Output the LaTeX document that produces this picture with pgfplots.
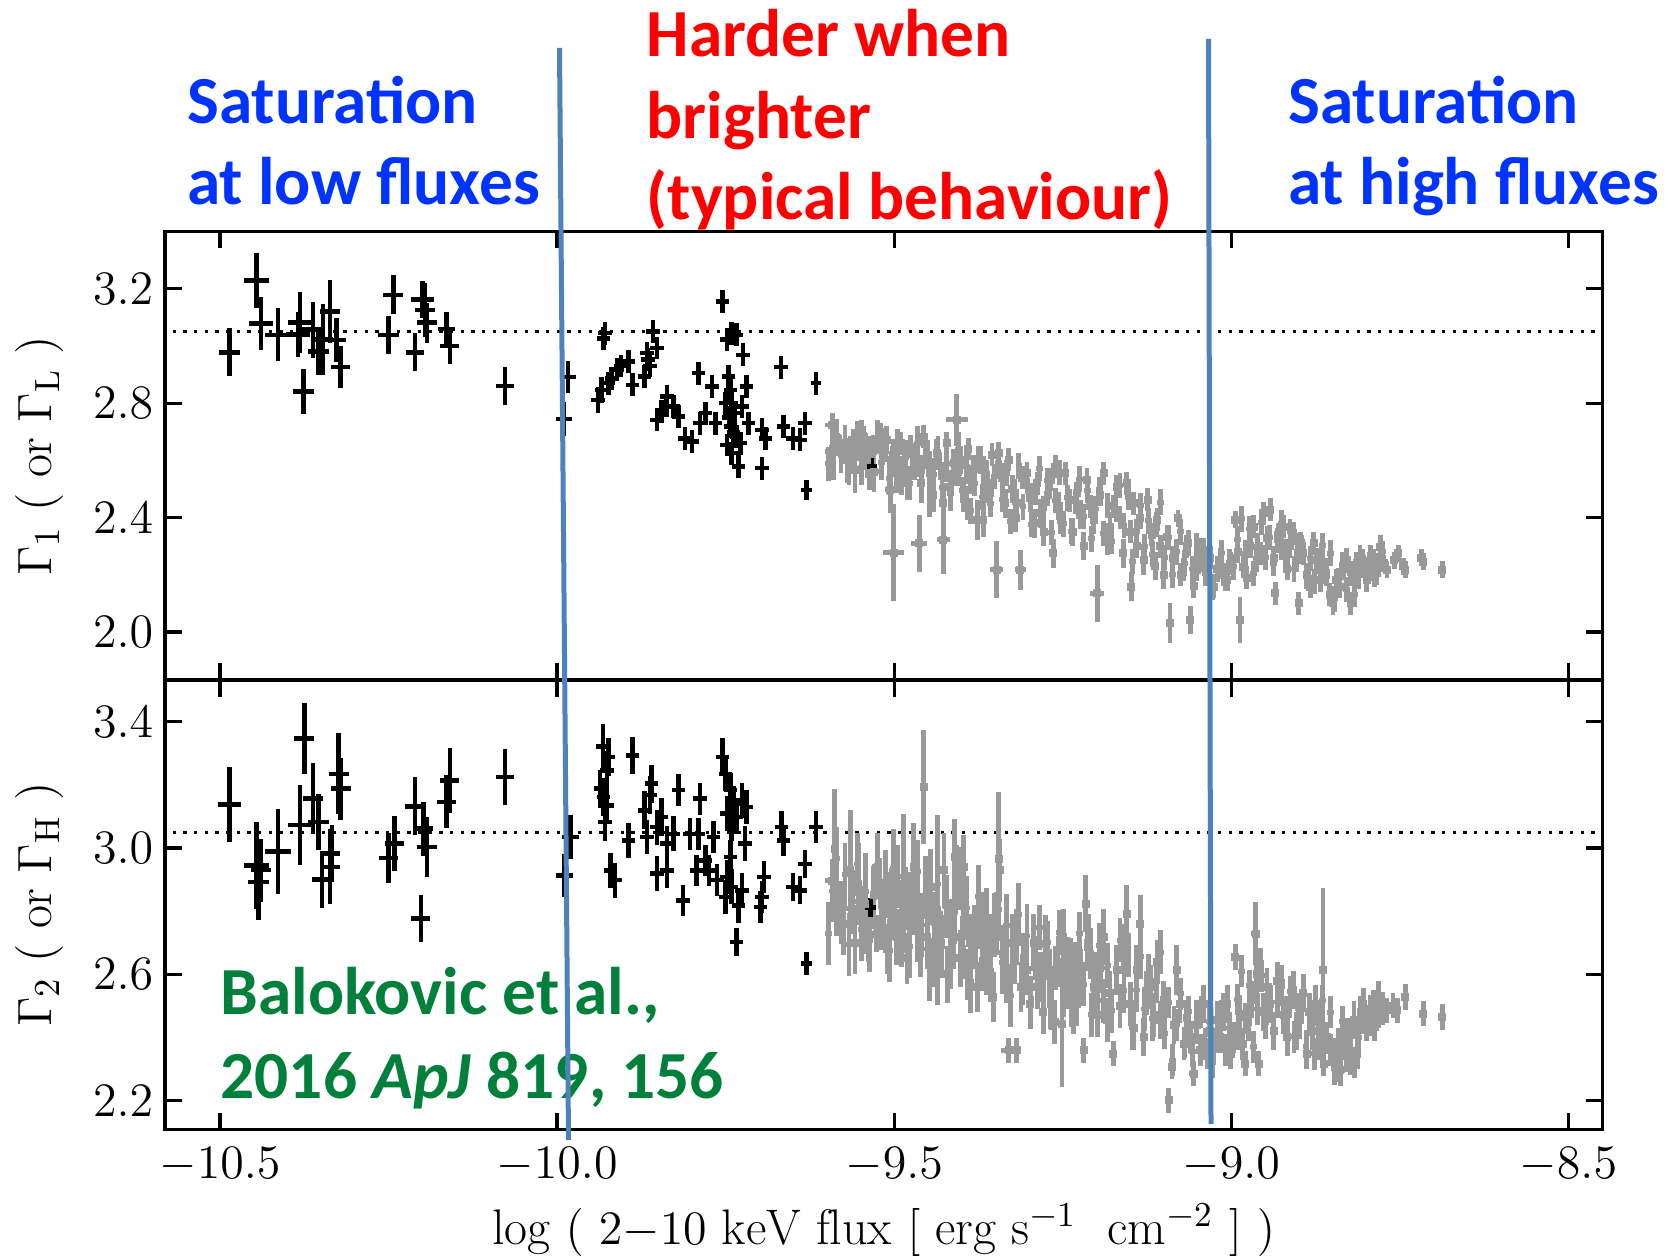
\documentclass[border=0pt]{standalone}
\usepackage{fontspec}
\newfontfamily\calibri{Carlito}
\usepackage{pgfplots}
\usepackage{pgfplotstable}
\pgfplotsset{compat=1.18}

\definecolor{satblue}{HTML}{0033FF}
\definecolor{hwbred}{HTML}{FF0000}
\definecolor{refgreen}{HTML}{00803A}
\definecolor{lineblue}{HTML}{4F81BD}
\definecolor{ptgray}{HTML}{999999}
\newcommand{\annot}{\fontsize{20.2}{24}\selectfont\calibri\bfseries}

% columns: log flux, photon index, x error, y error
\pgfplotstableread{
x y ex ey
-10.486 2.978 0.016 0.084
-10.446 3.229 0.019 0.096
-10.439 3.078 0.018 0.093
-10.414 3.039 0.019 0.093
-10.384 3.040 0.018 0.080
-10.381 3.082 0.018 0.106
-10.376 2.841 0.015 0.078
-10.362 3.057 0.016 0.098
-10.354 2.980 0.015 0.080
-10.347 3.022 0.015 0.125
-10.337 3.121 0.015 0.110
-10.327 3.021 0.014 0.076
-10.321 2.926 0.014 0.073
-10.250 3.039 0.015 0.067
-10.243 3.179 0.015 0.068
-10.211 2.978 0.013 0.067
-10.200 3.162 0.017 0.065
-10.196 3.126 0.015 0.096
-10.193 3.082 0.015 0.070
-10.164 3.059 0.012 0.061
-10.159 3.000 0.014 0.064
-10.077 2.860 0.013 0.066
-9.984 2.891 0.012 0.055
-9.990 2.744 0.012 0.060
-9.929 3.045 0.010 0.040
-9.931 3.027 0.010 0.040
-9.939 2.811 0.010 0.045
-9.934 2.847 0.010 0.045
-9.924 2.870 0.010 0.040
-9.919 2.887 0.010 0.040
-9.911 2.917 0.010 0.040
-9.905 2.930 0.010 0.040
-9.894 2.946 0.010 0.040
-9.888 2.864 0.010 0.040
-9.870 2.893 0.010 0.040
-9.865 2.952 0.010 0.040
-9.862 2.930 0.010 0.040
-9.858 3.051 0.010 0.040
-9.852 2.993 0.010 0.040
-9.867 2.975 0.010 0.040
-9.852 2.742 0.010 0.040
-9.845 2.771 0.010 0.040
-9.838 2.790 0.010 0.040
-9.837 2.823 0.010 0.040
-9.827 2.788 0.010 0.040
-9.820 2.753 0.010 0.040
-9.810 2.677 0.010 0.040
-9.800 2.666 0.010 0.040
-9.790 2.905 0.010 0.040
-9.788 2.730 0.010 0.040
-9.780 2.765 0.010 0.040
-9.770 2.858 0.010 0.040
-9.765 2.730 0.010 0.040
-9.755 3.156 0.010 0.040
-9.750 2.800 0.010 0.040
-9.748 3.022 0.010 0.040
-9.745 2.750 0.010 0.040
-9.741 3.045 0.010 0.040
-9.738 2.700 0.010 0.040
-9.734 3.039 0.010 0.040
-9.728 2.660 0.010 0.040
-9.724 2.969 0.010 0.040
-9.746 2.893 0.010 0.040
-9.743 2.847 0.010 0.040
-9.741 2.800 0.010 0.040
-9.736 2.765 0.010 0.040
-9.743 2.718 0.010 0.040
-9.748 2.654 0.010 0.040
-9.741 2.625 0.010 0.040
-9.734 2.683 0.010 0.040
-9.731 2.578 0.010 0.040
-9.726 2.788 0.010 0.040
-9.719 2.858 0.010 0.040
-9.716 2.730 0.010 0.040
-9.696 2.707 0.010 0.040
-9.691 2.677 0.010 0.040
-9.696 2.573 0.010 0.040
-9.668 2.926 0.010 0.040
-9.664 2.718 0.010 0.040
-9.650 2.677 0.010 0.040
-9.640 2.672 0.010 0.040
-9.632 2.730 0.010 0.040
-9.630 2.497 0.008 0.035
-9.616 2.870 0.008 0.040
-9.533 2.578 0.008 0.030
}\topblack

\pgfplotstableread{
x y ex ey
-9.592 2.724 0.010 0.040
-9.590 2.631 0.012 0.100
-9.585 2.680 0.008 0.050
-9.570 2.600 0.010 0.080
-9.565 2.625 0.008 0.060
-9.560 2.660 0.008 0.050
-9.555 2.648 0.008 0.050
-9.558 2.567 0.010 0.080
-9.548 2.690 0.008 0.050
-9.545 2.672 0.008 0.050
-9.540 2.600 0.008 0.060
-9.536 2.637 0.008 0.050
-9.530 2.560 0.010 0.070
-9.520 2.690 0.006 0.040
-9.515 2.640 0.006 0.040
-9.511 2.672 0.006 0.050
-9.506 2.497 0.008 0.080
-9.503 2.600 0.006 0.050
-9.501 2.625 0.006 0.050
-9.501 2.277 0.015 0.170
-9.496 2.555 0.006 0.070
-9.490 2.660 0.006 0.040
-9.485 2.600 0.006 0.050
-9.480 2.520 0.006 0.060
-9.476 2.648 0.006 0.040
-9.470 2.580 0.006 0.050
-9.466 2.602 0.006 0.060
-9.463 2.310 0.012 0.100
-9.460 2.520 0.006 0.070
-9.456 2.683 0.006 0.040
-9.450 2.620 0.006 0.050
-9.447 2.555 0.006 0.060
-9.442 2.480 0.006 0.060
-9.437 2.625 0.006 0.050
-9.432 2.580 0.006 0.050
-9.427 2.450 0.006 0.070
-9.427 2.322 0.010 0.120
-9.422 2.660 0.006 0.040
-9.417 2.508 0.006 0.060
-9.412 2.590 0.006 0.050
-9.407 2.742 0.016 0.090
-9.405 2.560 0.006 0.050
-9.402 2.602 0.006 0.050
-9.397 2.480 0.006 0.060
-9.392 2.450 0.006 0.060
-9.390 2.640 0.006 0.040
-9.387 2.532 0.006 0.050
-9.382 2.570 0.005 0.050
-9.377 2.392 0.006 0.070
-9.372 2.602 0.005 0.050
-9.367 2.567 0.005 0.050
-9.368 2.392 0.005 0.060
-9.362 2.500 0.005 0.050
-9.358 2.485 0.005 0.050
-9.355 2.620 0.005 0.040
-9.348 2.217 0.010 0.100
-9.345 2.625 0.005 0.040
-9.340 2.540 0.005 0.050
-9.335 2.450 0.005 0.050
-9.330 2.602 0.005 0.040
-9.325 2.500 0.005 0.050
-9.320 2.400 0.005 0.050
-9.318 2.450 0.005 0.050
-9.313 2.217 0.008 0.070
-9.310 2.540 0.005 0.040
-9.303 2.555 0.005 0.040
-9.298 2.470 0.005 0.050
-9.292 2.380 0.005 0.050
-9.288 2.520 0.005 0.040
-9.283 2.415 0.005 0.050
-9.278 2.350 0.005 0.050
-9.272 2.480 0.005 0.040
-9.268 2.532 0.005 0.040
-9.264 2.275 0.005 0.050
-9.261 2.578 0.005 0.040
-9.256 2.440 0.005 0.050
-9.253 2.392 0.005 0.050
-9.246 2.555 0.005 0.040
-9.240 2.460 0.005 0.040
-9.235 2.350 0.005 0.050
-9.229 2.485 0.005 0.040
-9.224 2.410 0.005 0.050
-9.219 2.300 0.005 0.050
-9.214 2.532 0.005 0.040
-9.209 2.440 0.005 0.040
-9.204 2.392 0.005 0.050
-9.199 2.135 0.010 0.100
-9.194 2.480 0.005 0.040
-9.189 2.555 0.005 0.040
-9.184 2.320 0.005 0.050
-9.180 2.368 0.005 0.050
-9.175 2.440 0.005 0.040
-9.170 2.508 0.005 0.040
-9.165 2.400 0.005 0.040
-9.160 2.275 0.005 0.050
-9.155 2.520 0.005 0.040
-9.150 2.350 0.005 0.040
-9.148 2.158 0.005 0.050
-9.145 2.450 0.005 0.040
-9.140 2.300 0.005 0.040
-9.135 2.400 0.005 0.040
-9.130 2.250 0.005 0.050
-9.124 2.462 0.005 0.040
-9.118 2.340 0.005 0.040
-9.113 2.230 0.005 0.050
-9.110 2.392 0.005 0.040
-9.105 2.300 0.005 0.040
-9.100 2.200 0.005 0.050
-9.095 2.333 0.005 0.040
-9.091 2.030 0.006 0.070
-9.087 2.260 0.005 0.040
-9.079 2.398 0.005 0.030
-9.075 2.200 0.005 0.040
-9.071 2.217 0.005 0.040
-9.066 2.300 0.005 0.040
-9.064 2.310 0.005 0.040
-9.061 2.042 0.005 0.050
-9.056 2.160 0.005 0.040
-9.051 2.217 0.005 0.040
-9.046 2.250 0.005 0.040
-9.041 2.287 0.005 0.040
-9.036 2.200 0.005 0.040
-9.031 2.260 0.005 0.040
-9.026 2.158 0.005 0.040
-9.021 2.220 0.005 0.040
-9.016 2.252 0.005 0.040
-9.011 2.200 0.005 0.040
-9.006 2.182 0.005 0.040
-9.001 2.240 0.005 0.040
-8.994 2.392 0.005 0.030
-8.990 2.280 0.005 0.040
-8.987 2.042 0.006 0.080
-8.982 2.228 0.005 0.040
-8.977 2.190 0.005 0.040
-8.972 2.300 0.005 0.040
-8.967 2.368 0.005 0.040
-8.962 2.250 0.005 0.040
-8.957 2.275 0.005 0.040
-8.952 2.415 0.005 0.040
-8.947 2.330 0.005 0.040
-8.942 2.427 0.005 0.040
-8.937 2.260 0.005 0.040
-8.935 2.135 0.005 0.040
-8.930 2.340 0.005 0.040
-8.925 2.290 0.005 0.040
-8.922 2.368 0.005 0.040
-8.917 2.220 0.005 0.040
-8.913 2.300 0.005 0.040
-8.908 2.345 0.005 0.040
-8.903 2.250 0.005 0.040
-8.900 2.100 0.005 0.040
-8.897 2.310 0.005 0.040
-8.893 2.275 0.005 0.040
-8.888 2.200 0.005 0.040
-8.883 2.158 0.005 0.040
-8.878 2.310 0.005 0.040
-8.873 2.250 0.005 0.040
-8.868 2.180 0.005 0.040
-8.864 2.240 0.005 0.040
-8.859 2.200 0.005 0.040
-8.854 2.130 0.005 0.040
-8.849 2.100 0.005 0.040
-8.844 2.180 0.005 0.040
-8.839 2.158 0.005 0.040
-8.834 2.220 0.005 0.040
-8.829 2.252 0.005 0.040
-8.823 2.100 0.005 0.040
-8.819 2.200 0.005 0.040
-8.814 2.240 0.005 0.040
-8.809 2.263 0.005 0.040
-8.804 2.230 0.005 0.040
-8.799 2.180 0.005 0.040
-8.794 2.217 0.005 0.040
-8.789 2.250 0.005 0.040
-8.784 2.205 0.005 0.040
-8.779 2.298 0.005 0.040
-8.774 2.240 0.005 0.030
-8.769 2.217 0.005 0.030
-8.758 2.250 0.005 0.030
-8.752 2.275 0.005 0.030
-8.745 2.230 0.005 0.030
-8.742 2.217 0.005 0.030
-8.718 2.260 0.005 0.030
-8.715 2.245 0.005 0.030
-8.687 2.217 0.005 0.030
}\topgray

% further points of the dense grey band (x, y, y error)
\pgfplotstableread{
x y ey
-9.597 2.588 0.06
-9.591 2.644 0.06
-9.585 2.686 0.06
-9.579 2.616 0.06
-9.573 2.665 0.06
-9.567 2.574 0.06
-9.561 2.630 0.06
-9.555 2.679 0.06
-9.549 2.574 0.06
-9.543 2.637 0.06
-9.537 2.556 0.06
-9.531 2.628 0.06
-9.525 2.682 0.06
-9.519 2.592 0.06
-9.513 2.655 0.06
-9.507 2.538 0.06
-9.501 2.610 0.06
-9.495 2.650 0.06
-9.489 2.540 0.06
-9.483 2.610 0.06
-9.477 2.520 0.06
-9.471 2.600 0.06
-9.465 2.660 0.06
-9.459 2.560 0.06
-9.453 2.630 0.06
-9.447 2.462 0.06
-9.441 2.550 0.06
-9.435 2.627 0.06
-9.429 2.506 0.06
-9.423 2.583 0.06
-9.417 2.484 0.06
-9.411 2.572 0.06
-9.405 2.638 0.06
-9.399 2.496 0.045
-9.393 2.580 0.045
-9.387 2.424 0.045
-9.381 2.520 0.045
-9.375 2.604 0.045
-9.369 2.472 0.045
-9.363 2.556 0.045
-9.357 2.448 0.045
-9.351 2.544 0.045
-9.345 2.594 0.045
-9.339 2.464 0.045
-9.333 2.555 0.045
-9.327 2.386 0.045
-9.321 2.490 0.045
-9.315 2.581 0.045
-9.309 2.438 0.045
-9.303 2.529 0.045
-9.297 2.376 0.045
-9.291 2.488 0.045
-9.285 2.572 0.045
-9.279 2.432 0.045
-9.273 2.530 0.045
-9.267 2.348 0.045
-9.261 2.460 0.045
-9.255 2.558 0.045
-9.249 2.378 0.045
-9.243 2.469 0.045
-9.237 2.352 0.045
-9.231 2.456 0.045
-9.225 2.534 0.045
-9.219 2.404 0.045
-9.213 2.495 0.045
-9.207 2.326 0.045
-9.201 2.430 0.045
-9.195 2.498 0.045
-9.189 2.344 0.045
-9.183 2.442 0.045
-9.177 2.316 0.045
-9.171 2.428 0.045
-9.165 2.512 0.045
-9.159 2.372 0.045
-9.153 2.470 0.045
-9.147 2.246 0.045
-9.141 2.350 0.045
-9.135 2.441 0.045
-9.129 2.298 0.045
-9.123 2.389 0.045
-9.117 2.272 0.045
-9.111 2.376 0.045
-9.105 2.454 0.045
-9.099 2.260 0.045
-9.093 2.330 0.045
-9.087 2.200 0.045
-9.081 2.280 0.045
-9.075 2.350 0.045
-9.069 2.240 0.045
-9.063 2.310 0.045
-9.057 2.220 0.045
-9.051 2.300 0.045
-9.045 2.284 0.045
-9.039 2.204 0.045
-9.033 2.260 0.045
-9.027 2.156 0.045
-9.021 2.220 0.045
-9.015 2.276 0.045
-9.009 2.188 0.045
-9.003 2.244 0.045
-8.997 2.228 0.045
-8.991 2.324 0.045
-8.985 2.396 0.045
-8.979 2.276 0.045
-8.973 2.360 0.045
-8.967 2.204 0.045
-8.961 2.300 0.045
-8.955 2.384 0.045
-8.949 2.260 0.045
-8.943 2.330 0.045
-8.937 2.240 0.045
-8.931 2.320 0.045
-8.925 2.380 0.045
-8.919 2.280 0.045
-8.913 2.350 0.045
-8.907 2.220 0.045
-8.901 2.300 0.045
-8.895 2.293 0.045
-8.889 2.194 0.045
-8.883 2.257 0.045
-8.877 2.176 0.045
-8.871 2.248 0.045
-8.865 2.302 0.045
-8.859 2.212 0.045
-8.853 2.275 0.045
-8.847 2.116 0.045
-8.841 2.180 0.045
-8.835 2.236 0.045
-8.829 2.148 0.045
-8.823 2.204 0.045
-8.817 2.132 0.045
-8.811 2.196 0.045
-8.805 2.244 0.045
-8.799 2.228 0.035
-8.793 2.270 0.035
-8.787 2.192 0.035
-8.781 2.240 0.035
-8.775 2.282 0.035
}\topgrayb

\pgfplotstableread{
x y ex ey
-10.486 3.137 0.017 0.119
-10.446 2.945 0.019 0.137
-10.443 2.892 0.016 0.119
-10.439 2.930 0.015 0.100
-10.414 2.989 0.019 0.135
-10.375 3.346 0.015 0.112
-10.381 3.072 0.018 0.127
-10.362 3.156 0.015 0.113
-10.354 3.082 0.015 0.090
-10.349 2.900 0.015 0.090
-10.337 2.940 0.015 0.119
-10.334 2.982 0.012 0.090
-10.324 3.235 0.015 0.128
-10.321 3.188 0.015 0.098
-10.250 2.968 0.014 0.080
-10.241 3.014 0.014 0.087
-10.211 3.132 0.014 0.092
-10.198 3.061 0.014 0.085
-10.193 3.003 0.015 0.095
-10.202 2.776 0.014 0.074
-10.164 3.146 0.014 0.084
-10.159 3.214 0.014 0.104
-10.077 3.225 0.013 0.090
-9.989 2.913 0.012 0.069
-9.980 3.035 0.012 0.069
-9.932 3.322 0.010 0.070
-9.926 3.246 0.010 0.060
-9.924 3.288 0.010 0.060
-9.936 3.188 0.010 0.060
-9.931 3.161 0.010 0.060
-9.926 3.135 0.010 0.060
-9.929 3.082 0.010 0.060
-9.888 3.293 0.010 0.060
-9.894 3.024 0.010 0.055
-9.921 2.929 0.010 0.055
-9.914 2.898 0.010 0.055
-9.860 3.204 0.010 0.060
-9.862 3.167 0.010 0.060
-9.870 3.119 0.010 0.060
-9.867 3.035 0.010 0.055
-9.852 3.066 0.010 0.055
-9.845 3.098 0.010 0.060
-9.837 3.014 0.010 0.055
-9.827 3.045 0.010 0.055
-9.852 2.919 0.010 0.055
-9.837 2.929 0.010 0.055
-9.820 3.183 0.010 0.050
-9.813 2.834 0.010 0.050
-9.803 3.045 0.010 0.050
-9.790 3.045 0.010 0.050
-9.788 3.156 0.010 0.050
-9.793 2.929 0.010 0.050
-9.780 2.961 0.010 0.050
-9.775 2.929 0.010 0.050
-9.768 3.035 0.010 0.050
-9.763 2.898 0.010 0.050
-9.755 3.288 0.010 0.060
-9.750 3.235 0.010 0.055
-9.743 3.183 0.010 0.055
-9.738 3.140 0.010 0.055
-9.748 3.109 0.010 0.055
-9.741 3.077 0.010 0.055
-9.734 3.098 0.010 0.055
-9.726 3.151 0.010 0.055
-9.719 3.130 0.010 0.055
-9.721 3.014 0.010 0.055
-9.743 2.971 0.010 0.055
-9.748 2.908 0.010 0.055
-9.750 2.845 0.010 0.055
-9.741 2.877 0.010 0.055
-9.726 2.866 0.010 0.055
-9.731 2.818 0.010 0.055
-9.734 2.702 0.010 0.045
-9.696 2.845 0.010 0.050
-9.693 2.908 0.010 0.050
-9.698 2.813 0.010 0.050
-9.667 3.066 0.010 0.050
-9.664 3.024 0.010 0.050
-9.650 2.877 0.010 0.045
-9.640 2.866 0.010 0.045
-9.632 2.950 0.010 0.045
-9.630 2.634 0.008 0.035
-9.616 3.066 0.010 0.050
-9.535 2.811 0.008 0.030
}\botblack

\pgfplotstableread{
x y ex ey
-9.592 2.896 0.010 0.050
-9.588 2.998 0.006 0.190
-9.585 2.820 0.006 0.100
-9.575 2.760 0.006 0.100
-9.565 2.929 0.006 0.190
-9.563 2.808 0.008 0.080
-9.558 2.700 0.006 0.100
-9.553 2.887 0.006 0.130
-9.548 2.780 0.006 0.100
-9.543 2.824 0.006 0.160
-9.538 2.720 0.006 0.080
-9.530 2.850 0.006 0.100
-9.526 2.729 0.010 0.060
-9.521 2.887 0.006 0.080
-9.515 2.790 0.006 0.100
-9.510 2.680 0.006 0.080
-9.506 2.824 0.006 0.100
-9.501 2.929 0.006 0.130
-9.496 2.718 0.006 0.090
-9.490 2.780 0.006 0.120
-9.486 2.887 0.006 0.220
-9.481 2.650 0.006 0.080
-9.476 2.824 0.006 0.100
-9.471 2.940 0.006 0.140
-9.466 2.740 0.006 0.100
-9.461 2.680 0.006 0.090
-9.456 3.193 0.006 0.180
-9.451 2.718 0.006 0.100
-9.446 2.877 0.006 0.120
-9.441 2.640 0.006 0.080
-9.436 2.803 0.006 0.300
-9.431 2.700 0.006 0.100
-9.426 2.929 0.006 0.120
-9.421 2.600 0.006 0.090
-9.416 2.739 0.006 0.100
-9.412 2.718 0.006 0.100
-9.410 2.971 0.006 0.120
-9.407 2.908 0.006 0.100
-9.402 2.650 0.006 0.090
-9.397 2.824 0.006 0.100
-9.397 2.940 0.006 0.100
-9.392 2.600 0.006 0.080
-9.387 2.700 0.006 0.090
-9.382 2.697 0.006 0.080
-9.380 2.718 0.006 0.100
-9.377 2.560 0.006 0.080
-9.372 2.771 0.006 0.090
-9.368 2.640 0.006 0.080
-9.365 2.760 0.006 0.100
-9.363 2.613 0.006 0.080
-9.358 2.700 0.006 0.090
-9.353 2.528 0.006 0.080
-9.348 2.760 0.006 0.100
-9.345 2.966 0.006 0.210
-9.343 2.929 0.006 0.100
-9.338 2.665 0.006 0.090
-9.334 2.590 0.006 0.080
-9.330 2.359 0.012 0.040
-9.325 2.700 0.006 0.090
-9.318 2.718 0.006 0.090
-9.318 2.359 0.006 0.040
-9.312 2.560 0.006 0.080
-9.308 2.650 0.006 0.080
-9.303 2.613 0.006 0.080
-9.298 2.507 0.006 0.080
-9.293 2.700 0.006 0.090
-9.288 2.560 0.006 0.070
-9.283 2.592 0.006 0.080
-9.279 2.480 0.006 0.070
-9.275 2.697 0.006 0.090
-9.270 2.600 0.006 0.080
-9.268 2.507 0.006 0.080
-9.262 2.450 0.006 0.070
-9.257 2.640 0.006 0.080
-9.251 2.444 0.006 0.200
-9.249 2.718 0.006 0.090
-9.244 2.560 0.006 0.070
-9.239 2.634 0.006 0.080
-9.234 2.480 0.006 0.070
-9.229 2.507 0.006 0.070
-9.224 2.600 0.006 0.080
-9.219 2.359 0.006 0.040
-9.216 2.824 0.006 0.090
-9.212 2.700 0.006 0.090
-9.209 2.665 0.006 0.080
-9.204 2.560 0.006 0.080
-9.199 2.470 0.006 0.070
-9.194 2.620 0.006 0.080
-9.189 2.718 0.006 0.090
-9.184 2.454 0.006 0.070
-9.180 2.540 0.006 0.070
-9.175 2.349 0.006 0.040
-9.170 2.613 0.006 0.080
-9.165 2.500 0.006 0.070
-9.160 2.680 0.006 0.080
-9.155 2.792 0.006 0.090
-9.150 2.507 0.006 0.070
-9.145 2.430 0.006 0.070
-9.140 2.613 0.006 0.080
-9.135 2.760 0.006 0.090
-9.130 2.402 0.006 0.060
-9.126 2.540 0.006 0.070
-9.120 2.560 0.006 0.070
-9.115 2.470 0.006 0.070
-9.110 2.640 0.006 0.070
-9.105 2.454 0.006 0.060
-9.100 2.520 0.006 0.060
-9.093 2.201 0.006 0.040
-9.088 2.307 0.006 0.040
-9.085 2.440 0.006 0.060
-9.081 2.613 0.006 0.080
-9.076 2.507 0.006 0.060
-9.070 2.380 0.006 0.050
-9.066 2.460 0.006 0.060
-9.061 2.402 0.006 0.050
-9.056 2.285 0.006 0.040
-9.051 2.440 0.006 0.060
-9.046 2.360 0.006 0.050
-9.041 2.507 0.006 0.060
-9.036 2.349 0.006 0.050
-9.031 2.420 0.006 0.050
-9.026 2.380 0.006 0.050
-9.021 2.454 0.006 0.060
-9.016 2.400 0.006 0.050
-9.011 2.480 0.006 0.060
-9.006 2.507 0.006 0.060
-9.001 2.349 0.006 0.050
-8.994 2.655 0.006 0.040
-8.990 2.420 0.006 0.060
-8.987 2.475 0.006 0.060
-8.983 2.380 0.006 0.050
-8.979 2.317 0.006 0.040
-8.975 2.450 0.006 0.060
-8.970 2.520 0.006 0.060
-8.964 2.729 0.006 0.100
-8.962 2.600 0.006 0.070
-8.959 2.317 0.006 0.040
-8.957 2.613 0.006 0.070
-8.952 2.480 0.006 0.060
-8.947 2.560 0.006 0.060
-8.942 2.507 0.006 0.060
-8.937 2.420 0.006 0.060
-8.932 2.580 0.006 0.060
-8.927 2.560 0.006 0.060
-8.922 2.470 0.006 0.060
-8.917 2.402 0.006 0.060
-8.913 2.520 0.006 0.060
-8.908 2.549 0.006 0.060
-8.903 2.420 0.006 0.060
-8.898 2.454 0.006 0.060
-8.893 2.540 0.006 0.060
-8.888 2.349 0.006 0.050
-8.884 2.480 0.006 0.060
-8.879 2.420 0.006 0.060
-8.875 2.507 0.006 0.060
-8.870 2.380 0.006 0.050
-8.864 2.613 0.006 0.260
-8.863 2.317 0.006 0.040
-8.858 2.400 0.006 0.050
-8.853 2.360 0.006 0.050
-8.848 2.349 0.006 0.050
-8.843 2.310 0.006 0.050
-8.838 2.296 0.006 0.050
-8.833 2.380 0.006 0.050
-8.828 2.402 0.006 0.060
-8.823 2.330 0.006 0.050
-8.818 2.454 0.006 0.060
-8.813 2.349 0.006 0.050
-8.808 2.480 0.006 0.050
-8.804 2.507 0.006 0.050
-8.799 2.440 0.006 0.050
-8.794 2.454 0.006 0.050
-8.789 2.500 0.006 0.050
-8.785 2.470 0.006 0.050
-8.781 2.528 0.006 0.050
-8.775 2.480 0.006 0.040
-8.769 2.486 0.006 0.040
-8.760 2.500 0.006 0.040
-8.754 2.486 0.006 0.040
-8.742 2.528 0.006 0.040
-8.715 2.475 0.006 0.040
-8.687 2.465 0.006 0.040
}\botgray

\pgfplotstableread{
x y ey
-9.597 2.728 0.10
-9.591 2.864 0.10
-9.585 2.966 0.10
-9.579 2.796 0.10
-9.573 2.915 0.10
-9.567 2.694 0.10
-9.561 2.830 0.10
-9.555 2.949 0.10
-9.549 2.742 0.10
-9.543 2.861 0.10
-9.537 2.708 0.10
-9.531 2.844 0.10
-9.525 2.946 0.10
-9.519 2.776 0.10
-9.513 2.895 0.10
-9.507 2.674 0.10
-9.501 2.810 0.10
-9.495 2.909 0.10
-9.489 2.722 0.10
-9.483 2.841 0.10
-9.477 2.688 0.10
-9.471 2.824 0.10
-9.465 2.926 0.10
-9.459 2.756 0.10
-9.453 2.875 0.10
-9.447 2.616 0.10
-9.441 2.760 0.10
-9.435 2.886 0.10
-9.429 2.688 0.10
-9.423 2.814 0.10
-9.417 2.652 0.10
-9.411 2.796 0.10
-9.405 2.904 0.10
-9.399 2.684 0.10
-9.393 2.810 0.10
-9.387 2.576 0.10
-9.381 2.720 0.10
-9.375 2.846 0.10
-9.369 2.648 0.10
-9.363 2.774 0.10
-9.357 2.612 0.10
-9.351 2.756 0.10
-9.345 2.806 0.10
-9.339 2.636 0.10
-9.333 2.755 0.10
-9.327 2.534 0.10
-9.321 2.670 0.10
-9.315 2.789 0.10
-9.309 2.602 0.10
-9.303 2.721 0.10
-9.297 2.524 0.07
-9.291 2.652 0.07
-9.285 2.748 0.07
-9.279 2.588 0.07
-9.273 2.700 0.07
-9.267 2.492 0.07
-9.261 2.620 0.07
-9.255 2.732 0.07
-9.249 2.536 0.07
-9.243 2.648 0.07
-9.237 2.504 0.07
-9.231 2.632 0.07
-9.225 2.728 0.07
-9.219 2.568 0.07
-9.213 2.680 0.07
-9.207 2.472 0.07
-9.201 2.600 0.07
-9.195 2.692 0.07
-9.189 2.516 0.07
-9.183 2.628 0.07
-9.177 2.484 0.07
-9.171 2.612 0.07
-9.165 2.708 0.07
-9.159 2.548 0.07
-9.153 2.660 0.07
-9.147 2.430 0.07
-9.141 2.550 0.07
-9.135 2.655 0.07
-9.129 2.490 0.07
-9.123 2.595 0.07
-9.117 2.460 0.07
-9.111 2.580 0.07
-9.105 2.670 0.07
-9.099 2.412 0.05
-9.093 2.510 0.05
-9.087 2.328 0.05
-9.081 2.440 0.05
-9.075 2.538 0.05
-9.069 2.384 0.05
-9.063 2.482 0.05
-9.057 2.356 0.05
-9.051 2.468 0.05
-9.045 2.480 0.05
-9.039 2.380 0.05
-9.033 2.450 0.05
-9.027 2.320 0.05
-9.021 2.400 0.05
-9.015 2.470 0.05
-9.009 2.360 0.05
-9.003 2.430 0.05
-8.997 2.400 0.05
-8.991 2.520 0.05
-8.985 2.610 0.05
-8.979 2.460 0.05
-8.973 2.565 0.05
-8.967 2.370 0.05
-8.961 2.490 0.05
-8.955 2.595 0.05
-8.949 2.446 0.05
-8.943 2.523 0.05
-8.937 2.424 0.05
-8.931 2.512 0.05
-8.925 2.578 0.05
-8.919 2.468 0.05
-8.913 2.545 0.05
-8.907 2.402 0.05
-8.901 2.490 0.05
-8.895 2.504 0.05
-8.889 2.372 0.05
-8.883 2.456 0.05
-8.877 2.348 0.05
-8.871 2.444 0.05
-8.865 2.516 0.05
-8.859 2.396 0.05
-8.853 2.480 0.05
-8.847 2.300 0.05
-8.841 2.380 0.05
-8.835 2.450 0.05
-8.829 2.340 0.05
-8.823 2.410 0.05
-8.817 2.320 0.05
-8.811 2.400 0.05
-8.805 2.460 0.05
-8.799 2.460 0.04
-8.793 2.495 0.04
-8.787 2.430 0.04
-8.781 2.470 0.04
-8.775 2.505 0.04
}\botgrayb

\pgfplotsset{
  panel/.style={
    scale only axis, width=431.2pt,
    xmin=-10.5816, xmax=-8.4496,
    xtick={-10.5,-10,-9.5,-9,-8.5},
    tick align=inside, major tick length=5pt,
    xtick pos=both, ytick pos=both,
    axis line style={line width=1pt},
    every tick/.style={black, line width=1pt},
    tick label style={font=\fontsize{15}{17}\selectfont},
    label style={font=\fontsize{15}{17}\selectfont},
    xticklabel style={yshift=-2pt, /pgf/number format/.cd, fixed, fixed zerofill, precision=1},
    yticklabel style={/pgf/number format/.cd, fixed, fixed zerofill, precision=1},
    ylabel style={at={(axis description cs:-0.087,0.5)}, anchor=center},
  },
  % plain strokes for the error bars keep the page small enough for TeX's memory
  blackerr/.style={draw=none, mark=none,
    error bars/.cd, x dir=both, x explicit, y dir=both, y explicit,
    draw error bar/.code 2 args={\draw[black, line width=1.35pt] ##1 -- ##2;}},
  grayerr/.style={only marks, mark=square*, mark size=1pt,
    mark options={fill=ptgray, draw=ptgray},
    error bars/.cd, x dir=both, x explicit, y dir=both, y explicit,
    draw error bar/.code 2 args={\draw[ptgray, line width=1.45pt] ##1 -- ##2;}},
  grayerrb/.style={draw=none, mark=none,
    error bars/.cd, x dir=both, x fixed=0.005, y dir=both, y explicit,
    draw error bar/.code 2 args={\draw[ptgray, line width=1.45pt] ##1 -- ##2;}},
  refline/.style={black, line width=1pt, dash pattern=on 1pt off 2.2pt},
}

\begin{document}
\begin{tikzpicture}
\path[use as bounding box] (0,0) rectangle (501.3pt,376.8pt);

\begin{axis}[panel, at={(49.5pt,172.8pt)}, anchor=south west, height=134.5pt,
  ymin=1.832, ymax=3.40, ytick={2.0,2.4,2.8,3.2}, xticklabels={},
  ylabel={$\Gamma_1\ (\ \mathrm{or}\ \Gamma_{\mathrm{L}}\ )$}]
\addplot[refline] coordinates {(-10.57,3.05) (-8.46,3.05)};
\addplot[grayerrb] table[x index=0, y index=1, y error index=2] {\topgrayb};
\addplot[grayerr] table[x index=0, y index=1, x error index=2, y error index=3] {\topgray};
\addplot[blackerr] table[x index=0, y index=1, x error index=2, y error index=3] {\topblack};
\end{axis}

\begin{axis}[panel, at={(49.5pt,38.0pt)}, anchor=south west, height=134.8pt,
  ymin=2.109, ymax=3.532, ytick={2.2,2.6,3.0,3.4},
  ylabel={$\Gamma_2\ (\ \mathrm{or}\ \Gamma_{\mathrm{H}}\ )$},
  xlabel={$\log\ (\ 2{-}10\ \mathrm{keV\ flux}\ [\ \mathrm{erg\ s^{-1}\ \ cm^{-2}}\ ]\ )$},
  xlabel style={at={(axis description cs:0.5,-0.224)}, anchor=center}]
\addplot[refline] coordinates {(-10.57,3.05) (-8.46,3.05)};
\addplot[grayerrb] table[x index=0, y index=1, y error index=2] {\botgrayb};
\addplot[grayerr] table[x index=0, y index=1, x error index=2, y error index=3] {\botgray};
\addplot[blackerr] table[x index=0, y index=1, x error index=2, y error index=3] {\botblack};
\end{axis}

% annotations, in pixel units of the reference measured from its top left corner
\begin{scope}[shift={(0pt,376.8pt)}, x=0.3pt, y=-0.3pt]
\node[anchor=base west, inner sep=0, text=satblue, font=\annot] at (186.5,123.3) {Saturation};
\node[anchor=base west, inner sep=0, text=satblue, font=\annot] at (186.5,205) {at low fluxes};
\node[anchor=base west, inner sep=0, text=hwbred, font=\annot] at (646,56.7) {Harder when};
\node[anchor=base west, inner sep=0, text=hwbred, font=\annot] at (646,138.3) {brighter};
\node[anchor=base west, inner sep=0, text=hwbred, font=\annot] at (646,220) {(typical behaviour)};
\node[anchor=base west, inner sep=0, text=satblue, font=\annot] at (1287.5,123.3) {Saturation};
\node[anchor=base west, inner sep=0, text=satblue, font=\annot] at (1287.5,205) {at high fluxes};
\node[anchor=base west, inner sep=0, text=refgreen, font=\annot] at (220,1015) {Balokovic et al.,};
\node[anchor=base west, inner sep=0, text=refgreen, font=\annot] at (220,1098.3) {2016 \textit{ApJ} 819, 156};
\draw[lineblue, line width=1.5pt] (559.5,48) -- (568.5,1140);
\draw[lineblue, line width=1.5pt] (1208.5,39) -- (1211,1124);
\end{scope}
\end{tikzpicture}
\end{document}
